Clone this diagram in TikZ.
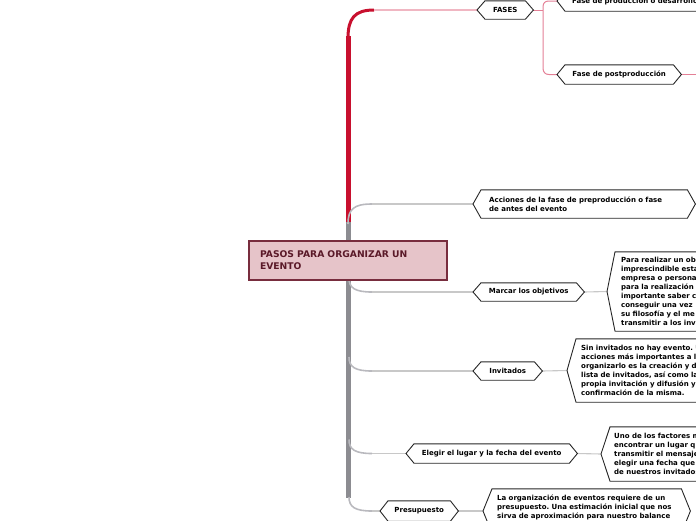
\documentclass[tikz,border=0pt]{standalone}
\usepackage{fontspec}
\setmainfont{DejaVu Sans}
\frenchspacing
\definecolor{redc}{RGB}{200,16,46}
\definecolor{pinkc}{RGB}{228,128,150}
\definecolor{palepink}{RGB}{240,182,194}
\definecolor{trunkgray}{RGB}{140,140,145}
\definecolor{trunklight}{RGB}{185,185,190}
\definecolor{linegray}{RGB}{200,200,200}
\definecolor{rootfill}{RGB}{230,196,201}
\definecolor{rootdraw}{RGB}{120,45,62}
\definecolor{roottext}{RGB}{90,25,40}
\pgfdeclarelayer{bg}
\pgfsetlayers{bg,main}
\begin{document}
\begin{tikzpicture}[x=1pt,y=-1pt,
  txt/.style={font=\fontsize{7}{9}\selectfont\bfseries, text=black},
  hexbox/.style={rectangle, draw=none, txt, inner ysep=0pt, anchor=west},
  hexline/.style={draw=black!85, line width=0.9pt, line join=miter},
  graybranch/.style={draw=linegray, line width=1.1pt},
  graycurve/.style={draw=trunklight, line width=1.6pt},
  pinkline/.style={draw=pinkc, line width=1pt},
  palepinkline/.style={draw=palepink, line width=1.2pt},
  redtrunk/.style={draw=redc, line width=5pt},
  redcurve/.style={draw=redc, line width=3pt},
  graytrunk/.style={draw=trunkgray, line width=5pt},
  rootbox/.style={rectangle, fill=rootfill, draw=rootdraw, line width=1.5pt,
    text=roottext, font=\fontsize{9.2}{12}\selectfont\bfseries, align=left}
]
\useasboundingbox (0,0) rectangle (696,520);
\clip (0,0) rectangle (696,520);

% ---------- nodes ----------
\node[rootbox, inner xsep=11pt, text width=176pt, minimum height=39pt] (root) at (348,260.5)
  {PASOS PARA ORGANIZAR UN\\EVENTO};

\node[hexbox, inner xsep=15pt, text width=26pt, minimum height=18pt, align=center] (fases) at (477,10) {FASES};
\node[hexbox, inner xsep=15pt, text width=200pt, minimum height=20pt, align=left] (prod) at (557,1) {Fase de producción o desarrollo};
\node[hexbox, inner xsep=14pt, text width=96pt, minimum height=19pt, align=center] (post) at (557,74.5) {Fase de postproducción};

\node[hexbox, inner xsep=16pt, text width=190pt, minimum height=28pt, align=left] (acc) at (473,204)
  {Acciones de la fase de preproducción o fase\\de antes del evento};

\node[hexbox, inner xsep=14.5pt, text width=82pt, minimum height=18pt, align=center] (marcar) at (473,292) {Marcar los objetivos};
\node[hexbox, inner xsep=14pt, text width=150pt, minimum height=79pt, align=left] (para) at (607,291.5)
  {Para realizar un ob\\imprescindible esta\\empresa o persona\\para la realización\\importante saber c\\conseguir una vez\\su filosofía y el me\\transmitir a los inv};

\node[hexbox, inner xsep=14pt, text width=41pt, minimum height=18pt, align=center] (invit) at (473,371) {Invitados};
\node[hexbox, inner xsep=14pt, text width=150pt, minimum height=63pt, align=left] (sin) at (567,370.5)
  {Sin invitados no hay evento. U\\acciones más importantes a la\\organizarlo es la creación y d\\lista de invitados, así como la\\propia invitación y difusión y\\confirmación de la misma.};

\node[hexbox, inner xsep=14pt, text width=143pt, minimum height=19pt, align=center] (elegir) at (406,453.5) {Elegir el lugar y la fecha del evento};
\node[hexbox, inner xsep=13pt, text width=150pt, minimum height=54pt, align=left] (uno) at (601,454)
  {Uno de los factores m\\encontrar un lugar q\\transmitir el mensaje\\elegir una fecha que\\de nuestros invitados};

\node[hexbox, inner xsep=14pt, text width=179pt, minimum height=44pt, align=left] (laorg) at (483,511)
  {La organización de eventos requiere de un\\presupuesto. Una estimación inicial que nos\\sirva de aproximación para nuestro balance\\\mbox{}};
\node[hexbox, inner xsep=14pt, text width=50pt, minimum height=20pt, align=center] (presu) at (380,511) {Presupuesto};

\coordinate (accend) at (700,204);
\coordinate (postend) at (700,74.5);

% ---------- hexagon outlines ----------
\foreach \n/\d in {fases/8,prod/8,post/8,acc/8,marcar/8,para/8,invit/8,sin/9,elegir/8,uno/9,presu/8,laorg/9}
  \draw[hexline] (\n.west) -- ([xshift=\d pt]\n.north west) -- ([xshift=-\d pt]\n.north east) -- (\n.east)
     -- ([xshift=-\d pt]\n.south east) -- ([xshift=\d pt]\n.south west) -- cycle;

% ---------- connectors ----------
\begin{pgfonlayer}{bg}
  % red trunk up to FASES
  \draw[redtrunk] (348,224) -- (348,36);
  \draw[redcurve] (348,38) .. controls (348,18) and (355,10) .. (374,10);
  \draw[palepinkline] (374,10) -- (fases.west);
  % FASES children
  \draw[pinkline] (fases.east) -- (543,10);
  \draw[pinkline] (prod.west) -- (549,1) .. controls (545,1) and (543,3) .. (543,7) -- (543,68)
     .. controls (543,72) and (545,74.5) .. (549,74.5) -- (post.west);
  \draw[pinkline] (post.east) -- (postend);
  % gray trunk
  \draw[trunklight, line width=1.5pt] (350.5,226) -- (350.5,496);
  \draw[graytrunk] (348,222) -- (348,498);
  \draw[graycurve] (348,224) .. controls (348,209) and (354,204) .. (372,204);
  \draw[graybranch] (372,204) -- (acc.west);
  \draw[graybranch] (acc.east) -- (accend);
  \foreach \n/\y in {marcar/292,invit/371,elegir/453.5,presu/511}{
    \draw[graycurve] (349,\y-14) .. controls (349,\y-4) and (355,\y) .. (372,\y);
    \draw[graybranch] (372,\y) -- (\n.west);
  }
  \draw[graybranch] (marcar.east) -- (para.west);
  \draw[graybranch] (invit.east) -- (sin.west);
  \draw[graybranch] (elegir.east) -- (uno.west);
  \draw[graybranch] (presu.east) -- (laorg.west);
\end{pgfonlayer}
\end{tikzpicture}
\end{document}
